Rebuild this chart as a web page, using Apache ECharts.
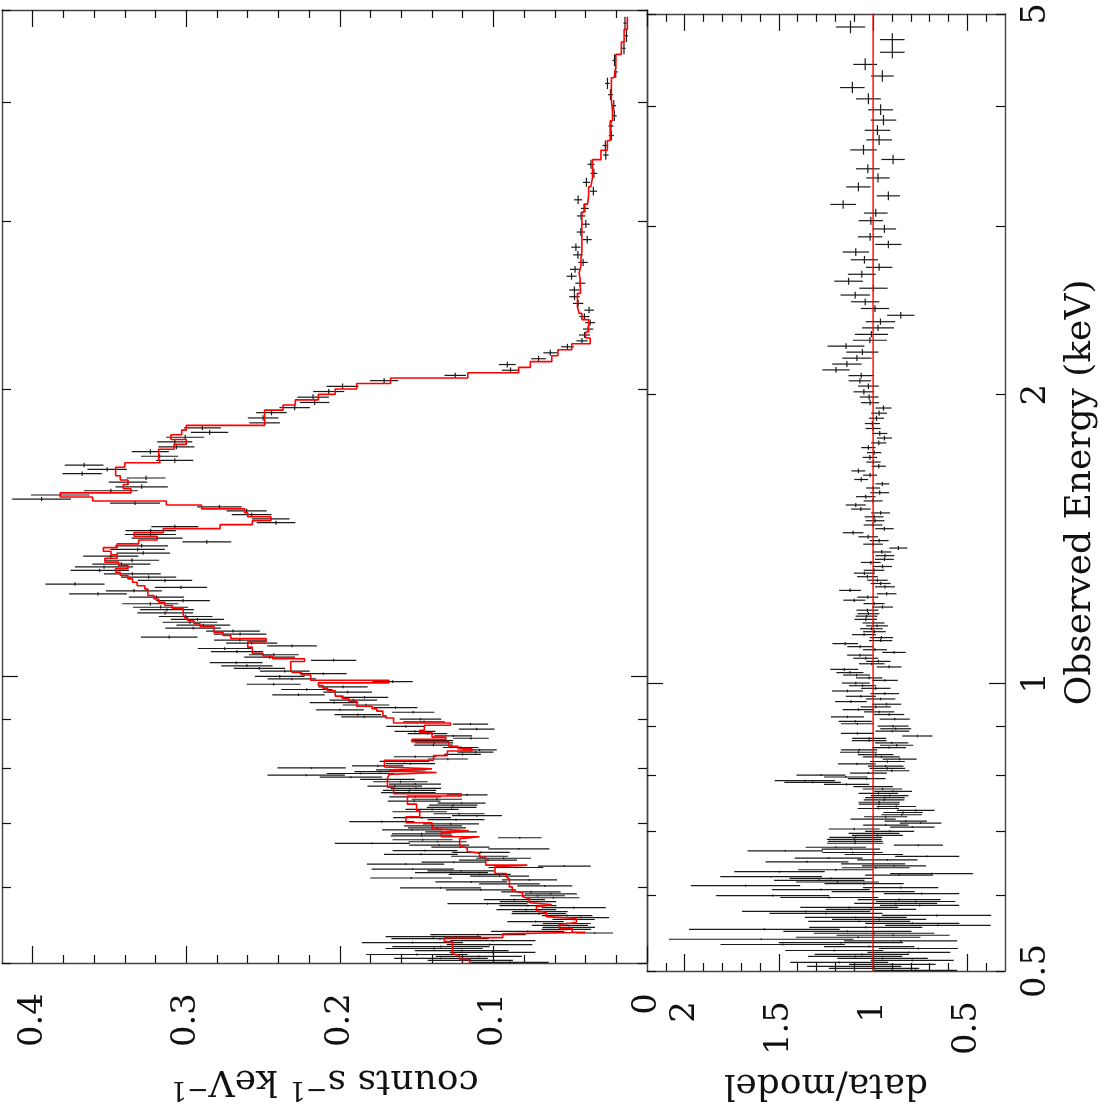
<!DOCTYPE html>
<html>
<head>
<meta charset="utf-8">
<title>Spectrum fit</title>
<script src="https://cdn.jsdelivr.net/npm/echarts@6/dist/echarts.min.js"></script>
<style>
html, body { margin: 0; padding: 0; background: #fff; }
#main { width: 1107px; height: 1107px; }
</style>
</head>
<body>
<div id="main"></div>
<script>
// bin centres (keV), high energy first
var energy = [
  4.844, 4.699, 4.558, 4.427, 4.305, 4.187, 4.075, 3.969, 3.872, 3.778,
  3.692, 3.604, 3.522, 3.444, 3.369, 3.297, 3.227, 3.161, 3.096, 3.040,
  2.980, 2.924, 2.871, 2.819, 2.767, 2.717, 2.672, 2.628, 2.584, 2.542,
  2.501, 2.461, 2.421, 2.384, 2.349, 2.313, 2.280, 2.248, 2.216, 2.184,
  2.153, 2.123, 2.094, 2.068, 2.042, 2.014, 1.989, 1.962, 1.937, 1.913,
  1.890, 1.866, 1.844, 1.822, 1.802, 1.781, 1.761, 1.740, 1.720, 1.701,
  1.684, 1.665, 1.648, 1.631, 1.614, 1.598,
  1.580, 1.565, 1.549, 1.534, 1.519, 1.505, 1.491, 1.477, 1.462, 1.449,
  1.435, 1.421, 1.408, 1.396, 1.383, 1.370, 1.358, 1.346, 1.336, 1.323,
  1.311, 1.302, 1.291, 1.280, 1.270, 1.260, 1.249, 1.239, 1.229, 1.220,
  1.210, 1.200, 1.191, 1.181, 1.174, 1.165, 1.155, 1.147, 1.139, 1.131,
  1.123, 1.115, 1.107, 1.099, 1.091, 1.083, 1.076, 1.069, 1.061, 1.053,
  1.047, 1.039, 1.033, 1.025, 1.019, 1.012, 1.006, 0.9995, 0.9932, 0.9869,
  0.9806, 0.9744, 0.9682, 0.9620, 0.9559, 0.9499, 0.9438, 0.9378, 0.9326, 0.9267,
  0.9216, 0.9164, 0.9113, 0.9063, 0.9012, 0.8955, 0.8905, 0.8856, 0.8800, 0.8751,
  0.8702, 0.8654, 0.8606, 0.8558, 0.8510, 0.8463, 0.8416, 0.8369, 0.8323, 0.8276,
  0.8230, 0.8185, 0.8139, 0.8094, 0.8049, 0.8011, 0.7973, 0.7941, 0.7903, 0.7872,
  0.7834, 0.7791, 0.7747, 0.7704, 0.7667, 0.7625, 0.7588, 0.7546, 0.7504, 0.7469,
  0.7427, 0.7392, 0.7357, 0.7321, 0.7281, 0.7246, 0.7206, 0.7171, 0.7137, 0.7103,
  0.7069, 0.7036, 0.6997, 0.6963, 0.6930, 0.6897, 0.6864, 0.6831, 0.6799, 0.6767,
  0.6734, 0.6702, 0.6676, 0.6649, 0.6617, 0.6586, 0.6559, 0.6533, 0.6502, 0.6471,
  0.6440, 0.6410, 0.6379, 0.6349, 0.6319, 0.6298, 0.6273, 0.6248, 0.6219, 0.6194,
  0.6169, 0.6140, 0.6111, 0.6082, 0.6053, 0.6024, 0.5995, 0.5967, 0.5938, 0.5910,
  0.5882, 0.5854, 0.5826, 0.5798, 0.5771, 0.5743, 0.5716, 0.5688, 0.5661, 0.5634,
  0.5607, 0.5580, 0.5554, 0.5527, 0.5501, 0.5475, 0.5449, 0.5423, 0.5397, 0.5376,
  0.5354, 0.5329, 0.5303, 0.5278, 0.5253, 0.5228, 0.5203, 0.5178, 0.5153, 0.5129,
  0.5104, 0.5080, 0.5056, 0.5032, 0.5008
];

// folded model, counts s^-1 keV^-1 (red histogram)
var model = [
  0.0128, 0.0149, 0.0167, 0.0203, 0.0214, 0.0232, 0.0232, 0.0225, 0.0225, 0.024,
  0.024, 0.0258, 0.030, 0.0355, 0.0355, 0.0366, 0.038, 0.0387, 0.041, 0.0424,
  0.0424, 0.0424, 0.0424, 0.0424, 0.043, 0.043, 0.0442, 0.0435, 0.0435, 0.0432,
  0.0453, 0.0453, 0.0442, 0.0424, 0.038, 0.038, 0.040, 0.037, 0.049, 0.058,
  0.062, 0.076, 0.0836, 0.1167, 0.167, 0.189, 0.203, 0.214, 0.229, 0.237,
  0.249, 0.249, 0.249, 0.300, 0.303, 0.310, 0.300, 0.308, 0.318, 0.318,
  0.317, 0.340, 0.346, 0.346, 0.343, 0.338,
  0.341, 0.336, 0.382, 0.361, 0.313, 0.290, 0.262, 0.260, 0.245, 0.257,
  0.278, 0.315, 0.334, 0.319, 0.331, 0.345, 0.354, 0.349, 0.345, 0.353,
  0.344, 0.338, 0.346, 0.343, 0.338, 0.335, 0.332, 0.327, 0.325, 0.325,
  0.321, 0.318, 0.314, 0.309, 0.302, 0.302, 0.301, 0.299, 0.295, 0.291,
  0.282, 0.282, 0.276, 0.271, 0.248, 0.260, 0.260, 0.257, 0.257, 0.250,
  0.244, 0.223, 0.232, 0.232, 0.232, 0.231, 0.225, 0.219, 0.219, 0.168,
  0.214, 0.211, 0.208, 0.203, 0.203, 0.198, 0.194, 0.189, 0.189, 0.179,
  0.176, 0.172, 0.172, 0.170, 0.165, 0.165, 0.128, 0.145, 0.145, 0.148,
  0.140, 0.140, 0.131, 0.153, 0.129, 0.129, 0.123, 0.114, 0.130, 0.130,
  0.139, 0.139, 0.171, 0.171, 0.171, 0.171, 0.140, 0.168, 0.137, 0.168,
  0.169, 0.169, 0.169, 0.169, 0.169, 0.165, 0.165, 0.165, 0.121, 0.156,
  0.156, 0.156, 0.156, 0.150, 0.150, 0.150, 0.148, 0.148, 0.148, 0.157,
  0.157, 0.157, 0.140, 0.140, 0.140, 0.140, 0.116, 0.134, 0.134, 0.109,
  0.122, 0.122, 0.122, 0.122, 0.122, 0.117, 0.117, 0.117, 0.109, 0.109,
  0.105, 0.105, 0.105, 0.105, 0.078, 0.099, 0.099, 0.099, 0.099, 0.0916,
  0.0916, 0.0916, 0.0896, 0.0896, 0.0896, 0.0896, 0.0877, 0.0877, 0.0877, 0.081,
  0.081, 0.081, 0.0766, 0.0766, 0.0766, 0.062, 0.072, 0.072, 0.072, 0.0656,
  0.0656, 0.0656, 0.046, 0.046, 0.046, 0.057, 0.057, 0.0487, 0.0487, 0.040,
  0.094, 0.094, 0.132, 0.132, 0.1266, 0.1266, 0.1266, 0.1266, 0.127, 0.127,
  0.127, 0.122, 0.122, 0.1156, 0.1156
];

// data/model per bin
var ratio = [
  1.120, 0.898, 0.898, 1.042, 0.951, 1.110, 1.025, 0.960, 0.945, 0.977,
  0.968, 1.051, 0.894, 1.028, 0.974, 1.078, 0.919, 1.159, 0.986, 1.012,
  0.940, 1.016, 0.919, 1.092, 1.046, 0.968, 1.060, 1.130, 0.998, 1.095,
  1.042, 0.990, 0.853, 0.961, 0.974, 1.009, 1.017, 1.144, 1.057, 1.086,
  1.139, 1.197, 1.063, 1.070, 1.025, 1.049, 1.021, 1.016, 0.945, 0.968,
  0.982, 1.004, 1.000, 0.965, 0.940, 0.970, 1.025, 0.995, 1.017, 0.998,
  0.970, 1.078, 1.016, 1.063, 0.951, 1.000,
  0.965, 1.039, 1.000, 1.092, 1.065, 0.960, 0.995, 0.990, 1.000, 0.940,
  1.106, 1.026, 0.968, 1.000, 0.866, 0.954, 0.937, 0.940, 1.012, 0.950,
  0.995, 1.046, 1.030, 0.977, 0.960, 0.937, 1.122, 0.928, 1.028, 1.100,
  0.995, 0.950, 1.030, 1.025, 1.035, 1.039, 0.998, 0.979, 1.009, 0.993,
  1.048, 0.956, 0.960, 1.148, 1.069, 0.990, 0.889, 1.070, 1.039, 0.972,
  1.007, 0.915, 1.153, 1.123, 1.088, 1.021, 0.937, 1.092, 1.056, 0.986,
  1.136, 0.938, 1.065, 0.960, 1.118, 0.929, 0.986, 1.078, 0.968, 0.915,
  1.136, 0.885, 1.095, 1.083, 0.894, 0.880, 0.898, 1.083, 0.765, 1.021,
  1.021, 0.901, 0.875, 0.915, 1.074, 1.078, 0.986, 0.956, 0.859, 0.924,
  1.086, 0.933, 0.924, 0.901, 1.025, 1.277, 1.145, 1.034, 1.362, 1.321,
  1.141, 1.000, 0.950, 0.894, 0.972, 0.912, 0.937, 0.942, 0.968, 0.968,
  0.877, 0.972, 0.774, 0.841, 0.848, 0.933, 1.000, 0.827, 0.748, 0.933,
  0.792, 1.100, 0.912, 0.995, 0.977, 1.092, 1.100, 1.095, 1.095, 0.760,
  1.198, 1.118, 1.466, 1.109, 0.996, 0.713, 1.236, 0.924, 1.351, 1.000,
  0.889, 0.986, 1.198, 1.497, 0.690, 0.862, 1.541, 1.224, 1.286, 1.189,
  1.048, 1.677, 0.854, 1.277, 1.000, 0.743, 1.533, 1.233, 0.862, 0.774,
  0.880, 0.753, 1.127, 1.012, 1.356, 1.250, 0.663, 1.092, 0.968, 1.074,
  0.792, 0.656, 1.039, 1.577, 1.136, 0.995, 0.894, 1.079, 1.594, 0.854,
  1.171, 1.480, 1.021, 0.760, 1.206, 0.810, 1.060, 1.095, 0.950, 0.792,
  1.180, 0.898, 1.100, 0.995, 0.774
];

// 1-sigma error on data/model
var ratioErr = [
  0.078, 0.065, 0.065, 0.063, 0.060, 0.065, 0.066, 0.066, 0.068, 0.068,
  0.068, 0.070, 0.062, 0.063, 0.062, 0.065, 0.062, 0.068, 0.063, 0.065,
  0.062, 0.065, 0.070, 0.070, 0.072, 0.070, 0.074, 0.076, 0.075, 0.078,
  0.075, 0.075, 0.072, 0.078, 0.085, 0.088, 0.090, 0.098, 0.085, 0.078,
  0.078, 0.072, 0.068, 0.060, 0.055, 0.055, 0.050, 0.048, 0.042, 0.042,
  0.040, 0.040, 0.040, 0.040, 0.040, 0.040, 0.038, 0.038, 0.038, 0.038,
  0.038, 0.037, 0.037, 0.037, 0.037, 0.037,
  0.050, 0.052, 0.050, 0.053, 0.052, 0.050, 0.050, 0.050, 0.050, 0.049,
  0.055, 0.052, 0.050, 0.052, 0.048, 0.050, 0.050, 0.050, 0.052, 0.050,
  0.055, 0.056, 0.055, 0.054, 0.053, 0.053, 0.058, 0.052, 0.056, 0.058,
  0.056, 0.055, 0.058, 0.058, 0.058, 0.060, 0.058, 0.058, 0.060, 0.060,
  0.064, 0.062, 0.062, 0.068, 0.068, 0.064, 0.062, 0.068, 0.066, 0.065,
  0.068, 0.066, 0.074, 0.072, 0.072, 0.070, 0.068, 0.074, 0.072, 0.078,
  0.082, 0.076, 0.080, 0.078, 0.084, 0.078, 0.080, 0.084, 0.080, 0.080,
  0.088, 0.080, 0.088, 0.088, 0.082, 0.082, 0.090, 0.088, 0.080, 0.090,
  0.092, 0.088, 0.088, 0.090, 0.096, 0.098, 0.094, 0.098, 0.090, 0.092,
  0.100, 0.094, 0.094, 0.094, 0.098, 0.130, 0.115, 0.100, 0.160, 0.150,
  0.120, 0.105, 0.105, 0.100, 0.105, 0.100, 0.105, 0.108, 0.110, 0.108,
  0.105, 0.110, 0.100, 0.105, 0.108, 0.115, 0.120, 0.112, 0.110, 0.120,
  0.118, 0.135, 0.130, 0.135, 0.135, 0.140, 0.145, 0.145, 0.150, 0.130,
  0.160, 0.155, 0.200, 0.160, 0.155, 0.170, 0.180, 0.160, 0.220, 0.170,
  0.170, 0.180, 0.200, 0.240, 0.220, 0.180, 0.270, 0.220, 0.240, 0.220,
  0.210, 0.290, 0.200, 0.260, 0.220, 0.200, 0.300, 0.260, 0.220, 0.210,
  0.220, 0.210, 0.260, 0.240, 0.340, 0.300, 0.290, 0.270, 0.250, 0.270,
  0.250, 0.280, 0.300, 0.400, 0.340, 0.320, 0.300, 0.330, 0.490, 0.300,
  0.330, 0.330, 0.240, 0.210, 0.260, 0.220, 0.250, 0.250, 0.240, 0.220,
  0.260, 0.230, 0.250, 0.240, 0.220
];

// axis ticks and labels
var countLabels = [0, 0.1, 0.2, 0.3, 0.4];
var ratioLabels = [0.5, 1, 1.5, 2];
var energyLabels = [0.5, 1, 2, 5];
var energyMinor = [0.5, 0.6, 0.7, 0.8, 0.9, 2, 3, 4, 5];

var FONT = 'DejaVu Serif';
var INK = '#111';
var lg = function (v) { return Math.log10(v); };
var eMin = lg(0.5), eMax = lg(5);

var n = energy.length;
var hiE = [], loE = [];
for (var i = 0; i < n; i++) {
  hiE[i] = i === 0 ? energy[0] * Math.sqrt(energy[0] / energy[1]) : Math.sqrt(energy[i - 1] * energy[i]);
  loE[i] = i === n - 1 ? energy[i] * Math.sqrt(energy[i] / energy[i - 1]) : Math.sqrt(energy[i] * energy[i + 1]);
}

var countsData = [], ratioData = [], stepData = [];
for (i = 0; i < n; i++) {
  countsData.push([model[i] * ratio[i], lg(energy[i]), model[i] * ratioErr[i], lg(loE[i]), lg(hiE[i])]);
  ratioData.push([ratio[i], lg(energy[i]), ratioErr[i], lg(loE[i]), lg(hiE[i])]);
  stepData.push([model[i], lg(hiE[i])], [model[i], lg(loE[i])]);
}

var countMinor = [], ratioMinor = [];
for (var k = 1; k < 21; k++) if (k % 5) countMinor.push(Math.round(k * 2) / 100);
for (k = 4; k < 22; k++) if (k % 5) ratioMinor.push(k / 10);

function errBars(params, api) {
  var x = api.value(0), y = api.value(1), ex = api.value(2);
  var a = api.coord([x - ex, y]), b = api.coord([x + ex, y]);
  var c = api.coord([x, api.value(3)]), d = api.coord([x, api.value(4)]);
  var st = { stroke: '#1a1a1a', lineWidth: 1.2 };
  return {
    type: 'group',
    children: [
      { type: 'line', shape: { x1: a[0], y1: a[1], x2: b[0], y2: b[1] }, style: st },
      { type: 'line', shape: { x1: c[0], y1: c[1], x2: d[0], y2: d[1] }, style: st }
    ]
  };
}

var tickStyle = { color: INK, width: 1.2 };
var frame = { show: true, onZero: false, lineStyle: { color: '#444', width: 1.4 } };
var noLine = { show: false, onZero: false };

function ax(grid, pos, min, max, inv, vals, len, extra) {
  var o = {
    type: 'value', gridIndex: grid, position: pos, min: min, max: max, inverse: inv,
    axisLine: noLine,
    axisTick: { show: true, inside: true, length: len, customValues: vals, lineStyle: tickStyle },
    axisLabel: { show: false },
    splitLine: { show: false },
    axisPointer: { show: false }
  };
  for (var key in extra) o[key] = extra[key];
  return o;
}

var tickLabel = { show: true, fontFamily: FONT, fontSize: 34, color: INK, rotate: 90 };
function lab(vals, margin, fmt) {
  var o = { customValues: vals, margin: margin };
  for (var key in tickLabel) o[key] = tickLabel[key];
  if (fmt) o.formatter = fmt;
  return o;
}
var nameStyle = {
  fontFamily: FONT, fontSize: 36, color: INK,
  rich: { s: { fontFamily: FONT, fontSize: 26, color: INK, verticalAlign: 'top', padding: [0, 0, 18, 0] } }
};

var xAxes = [
  ax(0, 'bottom', 0, 0.42, true, countLabels, 17, {
    axisLine: frame, axisLabel: lab(countLabels, 30),
    name: 'counts s{s|\u22121} keV{s|\u22121}', nameLocation: 'middle', nameRotate: 180, nameGap: 95,
    nameTextStyle: nameStyle
  }),
  ax(0, 'bottom', 0, 0.42, true, countMinor, 8),
  ax(0, 'top', 0, 0.42, true, countLabels, 17, { axisLine: frame }),
  ax(0, 'top', 0, 0.42, true, countMinor, 8),
  ax(1, 'bottom', 0.3, 2.2, true, ratioLabels, 17, {
    axisLine: frame, axisLabel: lab(ratioLabels, 30),
    name: 'data/model', nameLocation: 'middle', nameRotate: 180, nameGap: 95,
    nameTextStyle: nameStyle
  }),
  ax(1, 'bottom', 0.3, 2.2, true, ratioMinor, 8),
  ax(1, 'top', 0.3, 2.2, true, ratioLabels, 17, { axisLine: frame }),
  ax(1, 'top', 0.3, 2.2, true, ratioMinor, 8)
];

var eMajorT = [lg(1)], eMinorT = energyMinor.map(lg);
var yAxes = [
  ax(0, 'left', eMin, eMax, false, eMajorT, 16, { axisLine: frame }),
  ax(0, 'left', eMin, eMax, false, eMinorT, 9),
  ax(0, 'right', eMin, eMax, false, eMajorT, 16, { axisLine: frame }),
  ax(0, 'right', eMin, eMax, false, eMinorT, 9),
  ax(1, 'left', eMin, eMax, false, eMajorT, 16, { axisLine: frame }),
  ax(1, 'left', eMin, eMax, false, eMinorT, 9),
  ax(1, 'right', eMin, eMax, false, eMajorT, 16, {
    axisLine: frame,
    axisLabel: lab(energyLabels.map(lg), 14, function (v) { return String(+Math.pow(10, v).toFixed(2)); }),
    name: 'Observed Energy (keV)', nameLocation: 'middle', nameRotate: 90, nameGap: 58,
    nameTextStyle: nameStyle
  }),
  ax(1, 'right', eMin, eMax, false, eMinorT, 9)
];

var chart = echarts.init(document.getElementById('main'));
chart.setOption({
  animation: false,
  backgroundColor: '#fff',
  grid: [
    { left: 2, top: 10, width: 645, height: 964 },
    { left: 647, top: 10, width: 358, height: 964 }
  ],
  xAxis: xAxes,
  yAxis: yAxes,
  series: [
    {
      type: 'custom', name: 'data', xAxisIndex: 0, yAxisIndex: 0,
      renderItem: errBars, encode: { x: 0, y: 1 }, data: countsData, silent: true, z: 2
    },
    {
      type: 'line', name: 'model', xAxisIndex: 0, yAxisIndex: 0, data: stepData,
      symbol: 'none', lineStyle: { color: '#ff0000', width: 1.6 }, silent: true, z: 3
    },
    {
      type: 'line', name: 'unity', xAxisIndex: 4, yAxisIndex: 4, data: [[1, eMin], [1, eMax]],
      symbol: 'none', lineStyle: { color: '#ff0000', width: 1.4 }, silent: true, z: 3
    },
    {
      type: 'custom', name: 'ratio', xAxisIndex: 4, yAxisIndex: 4,
      renderItem: errBars, encode: { x: 0, y: 1 }, data: ratioData, silent: true, z: 2
    }
  ]
});
</script>
</body>
</html>
